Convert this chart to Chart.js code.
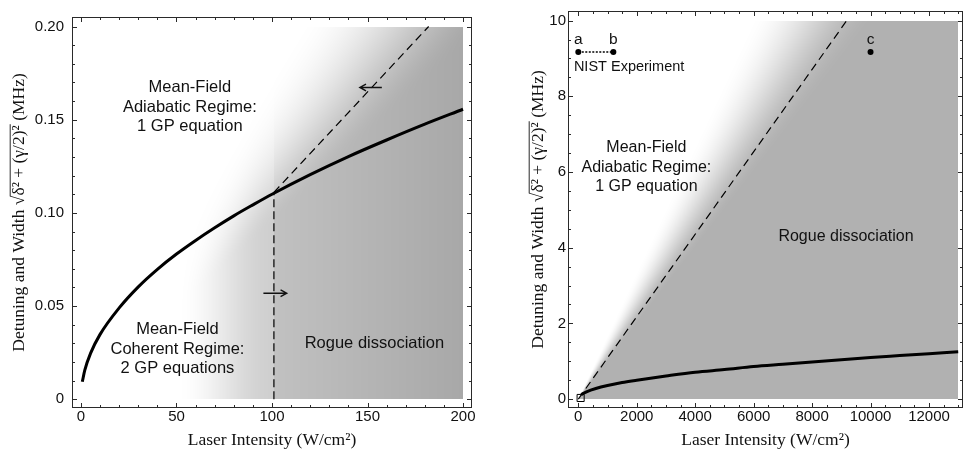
<!DOCTYPE html>
<html><head><meta charset="utf-8">
<script src="https://cdn.jsdelivr.net/npm/chart.js@4/dist/chart.umd.min.js"></script>
<style>
html,body{margin:0;padding:0;background:#fff;overflow:hidden;}
#wrap{position:relative;width:964px;height:453px;overflow:hidden;}
canvas{position:absolute;top:0;}
#c1{left:0}
#c2{left:482px}
</style></head><body>
<div id="wrap"><canvas id="c1" width="482" height="453"></canvas><canvas id="c2" width="482" height="453"></canvas></div>
<script>
// ---------------- DATA ----------------
// Left panel (0-200 W/cm^2)
const leftCurveX = [0.7, 2, 5, 10, 20, 30, 40, 50, 60, 70, 80, 90, 100, 120, 140, 160, 180, 200];
const leftCurveY = [0.0094, 0.0156, 0.0246, 0.0348, 0.049, 0.0603, 0.0697, 0.0779, 0.0852, 0.092, 0.0984, 0.1043, 0.110, 0.1205, 0.1302, 0.1391, 0.1476, 0.1556];
const leftDashX = [101, 182];
const leftDashY = [0.111, 0.2];
const leftVertX = [101, 101];
const leftVertY = [0, 0.111];
const leftXTicks = [0, 50, 100, 150, 200];
const leftXTickLabels = ["0", "50", "100", "150", "200"];
const leftYTicks = [0, 0.05, 0.10, 0.15, 0.20];
const leftYTickLabels = ["0", "0.05", "0.10", "0.15", "0.20"];

// Right panel (0-13000 W/cm^2)
const rightCurveX = [100, 300, 600, 1000, 1500, 2000, 3000, 4000, 5000, 6000, 7000, 8000, 9000, 10000, 11000, 12000, 13000];
const rightCurveY = [0.12, 0.2, 0.28, 0.36, 0.44, 0.5, 0.61, 0.71, 0.78, 0.86, 0.92, 0.98, 1.04, 1.1, 1.15, 1.2, 1.25];
const rightDashX = [0, 9185];
const rightDashY = [0, 10];
const nistABX = [0, 1200];
const nistABY = [9.17, 9.17];
const nistCX = [10000];
const nistCY = [9.17];
const boxMarkX = [80];
const boxMarkY = [0.03];
const rightXTicks = [0, 2000, 4000, 6000, 8000, 10000, 12000];
const rightXTickLabels = ["0", "2000", "4000", "6000", "8000", "10000", "12000"];
const rightYTicks = [0, 2, 4, 6, 8, 10];
const rightYTickLabels = ["0", "2", "4", "6", "8", "10"];

// ---------------- STYLE / HELPERS ----------------
const SANS = '"Liberation Sans", Arial, Helvetica, sans-serif';
const SERIF = '"Liberation Serif", "Times New Roman", Times, serif';
const Y_TITLE = 'Detuning and Width √δ² + (γ/2)² (MHz)';
const Y_PRE = 'Detuning and Width √';
const Y_RAD = 'δ² + (γ/2)²';
const X_TITLE = 'Laser Intensity (W/cm²)';
const SLOPE = 0.00109;

function pts(xs, ys) { return xs.map((x, i) => ({ x: x, y: ys[i] })); }
function ss(a, b, v) { let t = (v - a) / (b - a); t = Math.max(0, Math.min(1, t)); return t * t * (3 - 2 * t); }

function leftShade(x, y) {
  const r = y <= 0 ? 99 : SLOPE * x / y;
  const B = ss(0.62, 1.15, r);
  const A = x < 101 ? 48 * ss(50, 101, x) : 62 + 25 * (x - 101) / 99;
  return 255 - A * B;
}
function rightShade(x, y) {
  const r = y <= 0 ? 99 : SLOPE * x / y;
  return 255 - 78 * ss(0.64, 1.1, r);
}

function drawArrow(ctx, x1, y1, x2, y2) {
  const ang = Math.atan2(y2 - y1, x2 - x1), L = 7;
  ctx.beginPath();
  ctx.moveTo(x1, y1); ctx.lineTo(x2, y2);
  ctx.moveTo(x2 - L * Math.cos(ang - 0.5), y2 - L * Math.sin(ang - 0.5));
  ctx.lineTo(x2, y2);
  ctx.lineTo(x2 - L * Math.cos(ang + 0.5), y2 - L * Math.sin(ang + 0.5));
  ctx.stroke();
}

function minors(min, max, step, majors) {
  const out = [];
  const n0 = Math.ceil(min / step - 1e-9), n1 = Math.floor(max / step + 1e-9);
  for (let n = n0; n <= n1; n++) {
    const v = n * step;
    if (!majors.some(m => Math.abs(m - v) < step * 1e-3)) out.push(v);
  }
  return out;
}

function makePanel(P) {
  const panelPlugin = {
    id: 'panel_' + P.id,
    beforeDatasetsDraw(chart) {
      const { ctx } = chart; const xs = chart.scales.x, ys = chart.scales.y;
      const s = P.shade;
      const px0 = Math.round(xs.getPixelForValue(s.x0)), px1 = Math.round(xs.getPixelForValue(s.x1));
      const py0 = Math.round(ys.getPixelForValue(s.y1)), py1 = Math.round(ys.getPixelForValue(s.y0));
      const w = px1 - px0, h = py1 - py0;
      const off = document.createElement('canvas'); off.width = w; off.height = h;
      const o = off.getContext('2d'); const img = o.createImageData(w, h); const d = img.data;
      for (let j = 0; j < h; j++) {
        const yv = ys.getValueForPixel(py0 + j + 0.5);
        for (let i = 0; i < w; i++) {
          const xv = xs.getValueForPixel(px0 + i + 0.5);
          const g = Math.round(s.fn(xv, yv));
          const k = (j * w + i) * 4;
          d[k] = g; d[k + 1] = g; d[k + 2] = g; d[k + 3] = 255;
        }
      }
      o.putImageData(img, 0, 0);
      ctx.drawImage(off, px0, py0);
    },
    afterDatasetsDraw(chart) {
      const { ctx, chartArea: a } = chart; const xs = chart.scales.x, ys = chart.scales.y;
      ctx.save();
      ctx.strokeStyle = '#2a2a2a'; ctx.lineWidth = 1;
      ctx.strokeRect(a.left + 0.5, a.top + 0.5, a.right - a.left - 1, a.bottom - a.top - 1);
      const tick = (vals, len, horiz) => {
        ctx.beginPath();
        vals.forEach(v => {
          if (horiz) {
            const p = Math.round(xs.getPixelForValue(v)) + 0.5;
            ctx.moveTo(p, a.bottom); ctx.lineTo(p, a.bottom - len);
            ctx.moveTo(p, a.top); ctx.lineTo(p, a.top + len);
          } else {
            const p = Math.round(ys.getPixelForValue(v)) + 0.5;
            ctx.moveTo(a.left, p); ctx.lineTo(a.left + len, p);
            ctx.moveTo(a.right, p); ctx.lineTo(a.right - len, p);
          }
        });
        ctx.stroke();
      };
      tick(P.xTicks, 5, true); tick(P.yTicks, 5, false);
      tick(minors(P.xMin, P.xMax, P.xMinor, P.xTicks), 3, true);
      tick(minors(P.yMin, P.yMax, P.yMinor, P.yTicks), 3, false);
      ctx.fillStyle = '#111'; ctx.strokeStyle = '#111';
      P.notes.forEach(n => {
        ctx.font = n.size + 'px ' + SANS;
        ctx.textAlign = n.align || 'center';
        ctx.textBaseline = n.base || 'middle';
        ctx.fillText(n.text, xs.getPixelForValue(n.x), ys.getPixelForValue(n.y));
      });
      ctx.lineWidth = 1.4;
      (P.arrows || []).forEach(ar => {
        drawArrow(ctx, xs.getPixelForValue(ar.x1), ys.getPixelForValue(ar.y1), xs.getPixelForValue(ar.x2), ys.getPixelForValue(ar.y2));
      });
      ctx.restore();
    },
    afterDraw(chart) {
      const { ctx } = chart; const ys = chart.scales.y;
      ctx.save();
      ctx.font = P.yTitleSize + 'px ' + SERIF;
      ctx.textBaseline = 'middle';
      const tx = ys.left + P.yTitlePad + P.yTitleSize * 1.2 / 2;
      const ty = (ys.top + ys.bottom) / 2;
      ctx.translate(tx, ty); ctx.rotate(-Math.PI / 2);
      const W = ctx.measureText(Y_TITLE).width;
      const p = ctx.measureText(Y_PRE).width;
      const r = ctx.measureText(Y_RAD).width;
      const top = -ctx.measureText('√').actualBoundingBoxAscent;
      ctx.strokeStyle = '#111'; ctx.lineWidth = 0.9;
      ctx.beginPath();
      ctx.moveTo(-W / 2 + p - 0.8, top + 0.5);
      ctx.lineTo(-W / 2 + p + r + 1, top + 0.5);
      ctx.stroke();
      ctx.restore();
    }
  };

  return new Chart(document.getElementById(P.id), {
    type: 'scatter',
    data: { datasets: P.datasets },
    options: {
      responsive: false, animation: false, devicePixelRatio: 1,
      layout: { padding: { left: 0, top: 6, right: P.padRight, bottom: 0 }, autoPadding: false },
      plugins: { legend: { display: false }, tooltip: { enabled: false } },
      scales: {
        x: {
          type: 'linear', min: P.xMin, max: P.xMax,
          afterBuildTicks: s => { s.ticks = P.xTicks.map(v => ({ value: v })); },
          afterFit: s => { s.height = 45; },
          ticks: { callback: (v, i) => P.xLabels[i], font: { family: SANS, size: 15 }, color: '#111', padding: 0, maxRotation: 0, autoSkip: false },
          grid: { display: false, drawTicks: false }, border: { display: false },
          title: { display: true, text: X_TITLE, font: { family: SERIF, size: 17.5 }, color: '#111', padding: { top: 0, bottom: 2 } }
        },
        y: {
          type: 'linear', min: P.yMin, max: P.yMax,
          afterBuildTicks: s => { s.ticks = P.yTicks.map(v => ({ value: v })); },
          afterFit: s => { s.width = P.yAxisWidth; },
          ticks: { callback: (v, i) => P.yLabels[i], font: { family: SANS, size: 15 }, color: '#111', padding: P.yTickPad, autoSkip: false },
          grid: { display: false, drawTicks: false }, border: { display: false },
          title: { display: true, text: Y_TITLE, font: { family: SERIF, size: P.yTitleSize }, color: '#111', padding: { top: P.yTitlePad, bottom: 0 } }
        }
      }
    },
    plugins: [panelPlugin]
  });
}

const lineDs = (xs, ys, extra) => Object.assign({
  data: pts(xs, ys), showLine: true, pointRadius: 0, borderColor: '#000', backgroundColor: '#000', fill: false
}, extra);

makePanel({
  id: 'c1', xMin: -4.7, xMax: 204.7, yMin: -0.0047, yMax: 0.2051,
  xTicks: leftXTicks, xLabels: leftXTickLabels, yTicks: leftYTicks, yLabels: leftYTickLabels,
  xMinor: 10, yMinor: 0.01,
  yAxisWidth: 72, padRight: 10, yTickPad: 8, yTitlePad: 8.6, yTitleSize: 17.5,
  shade: { x0: 0, x1: 200, y0: 0, y1: 0.2, fn: leftShade },
  datasets: [
    lineDs(leftDashX, leftDashY, { borderWidth: 1.2, borderDash: [8, 5] }),
    lineDs(leftVertX, leftVertY, { borderWidth: 1.2, borderDash: [8, 4] }),
    lineDs(leftCurveX, leftCurveY, { borderWidth: 3, cubicInterpolationMode: 'monotone' })
  ],
  notes: [
    { text: 'Mean-Field', x: 57, y: 0.1673, size: 16.5 },
    { text: 'Adiabatic Regime:', x: 57, y: 0.1564, size: 16.5 },
    { text: '1 GP equation', x: 57, y: 0.1462, size: 16.5 },
    { text: 'Mean-Field', x: 50.5, y: 0.0372, size: 16.5 },
    { text: 'Coherent Regime:', x: 50.5, y: 0.0267, size: 16.5 },
    { text: '2 GP equations', x: 50.5, y: 0.0164, size: 16.5 },
    { text: 'Rogue dissociation', x: 153.6, y: 0.0302, size: 16.5 }
  ],
  arrows: [
    { x1: 157.5, y1: 0.1673, x2: 146, y2: 0.1673 },
    { x1: 95.5, y1: 0.0569, x2: 107.7, y2: 0.0569 }
  ]
});

makePanel({
  id: 'c2', xMin: -352, xMax: 13164, yMin: -0.235, yMax: 10.253,
  xTicks: rightXTicks, xLabels: rightXTickLabels, yTicks: rightYTicks, yLabels: rightYTickLabels,
  xMinor: 500, yMinor: 0.5,
  yAxisWidth: 86, padRight: 1, yTickPad: 2, yTitlePad: 45.6, yTitleSize: 17.5,
  shade: { x0: 0, x1: 13000, y0: 0, y1: 10, fn: rightShade },
  datasets: [
    lineDs(rightDashX, rightDashY, { borderWidth: 1.2, borderDash: [8, 5] }),
    lineDs(rightCurveX, rightCurveY, { borderWidth: 3, cubicInterpolationMode: 'monotone' }),
    lineDs(nistABX, nistABY, { borderWidth: 1.5, borderDash: [2, 1.5], pointRadius: 3, pointBorderWidth: 0 }),
    { data: pts(nistCX, nistCY), pointRadius: 3, pointBorderWidth: 0, backgroundColor: '#000', borderColor: '#000' },
    { data: pts(boxMarkX, boxMarkY), pointStyle: 'rect', pointRadius: 5, pointBorderWidth: 1, borderColor: '#000', backgroundColor: 'rgba(0,0,0,0)' }
  ],
  notes: [
    { text: 'a', x: 0, y: 9.38, size: 15.5, base: 'alphabetic' },
    { text: 'b', x: 1200, y: 9.38, size: 15.5, base: 'alphabetic' },
    { text: 'c', x: 10000, y: 9.38, size: 15.5, base: 'alphabetic' },
    { text: 'NIST Experiment', x: -150, y: 8.78, size: 14.5, align: 'left' },
    { text: 'Mean-Field', x: 2330, y: 6.64, size: 16 },
    { text: 'Adiabatic Regime:', x: 2330, y: 6.12, size: 16 },
    { text: '1 GP equation', x: 2330, y: 5.62, size: 16 },
    { text: 'Rogue dissociation', x: 9160, y: 4.29, size: 16 }
  ],
  arrows: []
});
</script>
</body></html>
